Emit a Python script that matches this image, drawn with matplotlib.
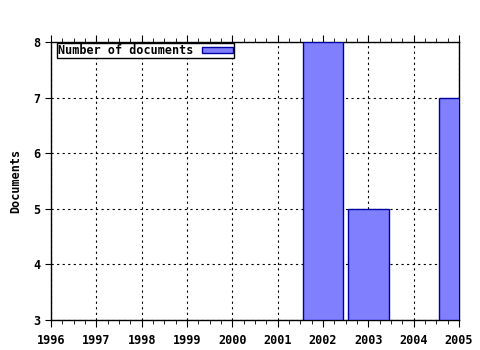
import matplotlib
matplotlib.use("Agg")
import matplotlib.pyplot as plt
from matplotlib.ticker import MultipleLocator

years = [2002, 2003, 2005]
docs = [8, 5, 7]
year_ticks = list(range(1996, 2006))
doc_ticks = [3, 4, 5, 6, 7, 8]

plt.rcParams['font.family'] = ['DejaVu Sans Mono']
plt.rcParams['font.weight'] = 'bold'

fig = plt.figure(figsize=(4.8, 3.5), dpi=100)
ax = fig.add_axes([51/480, 30/350, 408/480, 278/350])

ax.bar(years, [d - 3 for d in docs], bottom=3, width=0.9, color="#8080ff",
       edgecolor="#0000a0", linewidth=1, label="Number of documents", zorder=3)

ax.set_xlim(1996, 2005)
ax.set_ylim(3, 8)
ax.set_xticks(year_ticks)
ax.set_yticks(doc_ticks)
ax.xaxis.set_minor_locator(MultipleLocator(0.25))
ax.tick_params(axis="x", which="both", direction="out", top=True, labelsize=8.5, pad=5)
ax.tick_params(axis="x", which="major", length=5)
ax.tick_params(axis="x", which="minor", length=3)
ax.tick_params(axis="y", which="major", length=4, labelsize=8.5)
ax.grid(True, which="major", linestyle=(0, (2, 3)), color="black", linewidth=0.8)
for s in ax.spines.values():
    s.set_linewidth(1)
ax.set_ylabel("Documents", fontsize=8.5, fontweight="bold", labelpad=8)

# legend box sits just inside the top-left corner
leg = ax.legend(loc="upper left", bbox_to_anchor=(6/408, 1 - 1/278),
                markerfirst=False, fontsize=8.5, frameon=True,
                fancybox=False, borderpad=0.1, borderaxespad=0,
                handlelength=2.6, handleheight=0.45, handletextpad=0.7)
leg.get_frame().set_edgecolor("black")
leg.get_frame().set_linewidth(1)
leg.get_frame().set_alpha(1)

fig.savefig("out.png", dpi=100)
